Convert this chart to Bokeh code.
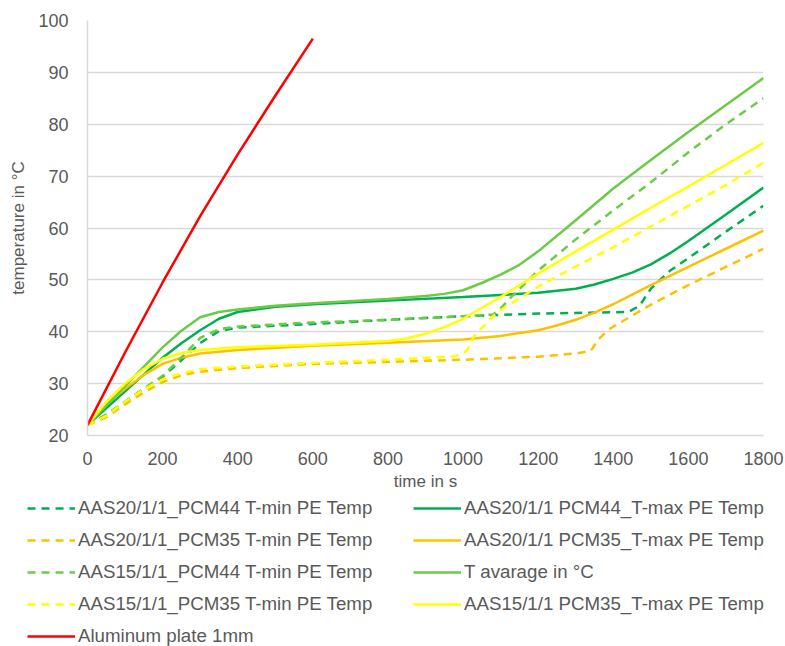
from bokeh.plotting import figure
from bokeh.models import Legend, LegendItem, FixedTicker
from bokeh.embed import file_html
from bokeh.resources import INLINE

# time (s) and temperatures (°C)
t_dg_min = [0, 50, 100, 150, 200, 250, 300, 350, 400, 600, 800, 1000, 1200, 1440, 1470, 1500, 1550, 1600, 1700, 1800]
v_dg_min = [22, 24, 26.5, 29, 31.3, 34.5, 37.8, 40.1, 40.8, 41.5, 42.3, 43, 43.5, 43.8, 45, 48.3, 51.7, 54.2, 59.3, 64.3]

t_dg_max = [0, 100, 200, 250, 300, 350, 400, 500, 600, 800, 1000, 1200, 1300, 1350, 1400, 1450, 1500, 1550, 1600, 1700, 1800]
v_dg_max = [22, 28.5, 35, 37.8, 40.3, 42.5, 43.8, 44.8, 45.3, 46, 46.7, 47.5, 48.3, 49.1, 50.2, 51.4, 53, 55.1, 57.5, 62.6, 67.8]

t_o_min = [0, 50, 100, 150, 200, 250, 300, 400, 600, 800, 1000, 1200, 1300, 1340, 1360, 1385, 1400, 1500, 1600, 1700, 1800]
v_o_min = [22, 23.5, 26, 28.3, 30.3, 31.6, 32.3, 33, 33.8, 34.2, 34.6, 35.2, 35.8, 36.3, 38.5, 40.3, 41, 45.2, 49, 52.5, 56]

t_o_max = [0, 50, 100, 150, 200, 250, 300, 400, 600, 800, 1000, 1100, 1200, 1250, 1300, 1350, 1400, 1500, 1600, 1700, 1800]
v_o_max = [22, 26, 29, 31.7, 33.8, 35, 35.8, 36.5, 37.3, 37.9, 38.5, 39.2, 40.3, 41.2, 42.3, 43.7, 45.3, 49, 52.5, 56, 59.5]

t_lg_min = [0, 50, 100, 150, 200, 250, 300, 350, 400, 600, 800, 1000, 1080, 1100, 1130, 1200, 1300, 1400, 1500, 1600, 1700, 1800]
v_lg_min = [22, 24, 26.5, 29, 31.5, 35, 38.8, 40.5, 41, 41.8, 42.3, 43, 43.3, 44.5, 46.8, 51.8, 57.8, 63.4, 68.8, 74.6, 80, 85]

t_avg = [0, 100, 200, 250, 300, 350, 400, 500, 600, 800, 900, 950, 1000, 1050, 1100, 1150, 1200, 1300, 1400, 1500, 1600, 1700, 1800]
v_avg = [22, 29.5, 37, 40.2, 42.8, 43.8, 44.3, 45, 45.5, 46.3, 46.9, 47.3, 48, 49.4, 51, 52.9, 55.5, 61.5, 67.6, 73.1, 78.5, 83.7, 88.9]

t_y_min = [0, 50, 100, 150, 200, 250, 300, 400, 600, 800, 980, 1010, 1030, 1080, 1100, 1200, 1300, 1400, 1500, 1600, 1700, 1800]
v_y_min = [22, 23.8, 26.5, 28.9, 30.8, 32, 32.8, 33.3, 34, 34.6, 35.3, 36.3, 39.2, 43, 44.2, 48.7, 52.6, 56.3, 60.3, 64.3, 68.3, 72.6]

t_y_max = [0, 50, 100, 150, 200, 250, 300, 400, 600, 800, 850, 900, 950, 1000, 1100, 1200, 1300, 1400, 1500, 1600, 1700, 1800]
v_y_max = [22, 26.5, 30, 32.8, 34.8, 35.9, 36.5, 37, 37.5, 38.2, 38.7, 39.6, 40.9, 42.5, 46.7, 51.2, 55.5, 59.7, 63.9, 68, 72.2, 76.4]

t_red = [0, 100, 200, 300, 400, 500, 600]
v_red = [22, 36, 49.5, 62.3, 74.2, 85.5, 96.5]

x_ticks = [0, 200, 400, 600, 800, 1000, 1200, 1400, 1600, 1800]
y_ticks = [20, 30, 40, 50, 60, 70, 80, 90, 100]

series = [
    ("AAS20/1/1_PCM44 T-min PE Temp", t_dg_min, v_dg_min, "#00B050", "dashed"),
    ("AAS20/1/1 PCM44_T-max PE Temp", t_dg_max, v_dg_max, "#00B050", "solid"),
    ("AAS20/1/1_PCM35 T-min PE Temp", t_o_min, v_o_min, "#FFC000", "dashed"),
    ("AAS20/1/1 PCM35_T-max PE Temp", t_o_max, v_o_max, "#FFC000", "solid"),
    ("AAS15/1/1_PCM44 T-min PE Temp", t_lg_min, v_lg_min, "#6CCB46", "dashed"),
    ("T avarage in °C", t_avg, v_avg, "#6CCB46", "solid"),
    ("AAS15/1/1_PCM35 T-min PE Temp", t_y_min, v_y_min, "#FFFF00", "dashed"),
    ("AAS15/1/1 PCM35_T-max PE Temp", t_y_max, v_y_max, "#FFFF00", "solid"),
    ("Aluminum plate 1mm", t_red, v_red, "#FF0000", "solid"),
]

FONT = "Liberation Sans"
GREY = "#595959"
DASH = "8 6"

p = figure(width=785, height=493, x_range=(0, 1800), y_range=(20, 100),
           output_backend="svg", toolbar_location=None,
           min_border_left=87, min_border_right=22, min_border_top=20, min_border_bottom=56)
p.outline_line_color = None

for ax in (p.xaxis[0], p.yaxis[0]):
    ax.major_tick_line_color = None
    ax.minor_tick_line_color = None
    ax.axis_line_color = "#d9d9d9"
    ax.axis_line_width = 1.5
    ax.major_label_text_font = FONT
    ax.major_label_text_font_size = "18px"
    ax.major_label_text_color = GREY
    ax.axis_label_text_font = FONT
    ax.axis_label_text_font_size = "17px"
    ax.axis_label_text_color = GREY
    ax.axis_label_text_font_style = "normal"

p.xaxis.ticker = FixedTicker(ticks=x_ticks)
p.yaxis.ticker = FixedTicker(ticks=y_ticks)
p.xaxis.axis_label = "time in s"
p.yaxis.axis_label = "temperature in °C"
p.xaxis.major_label_standoff = 10
p.yaxis.major_label_standoff = 13
p.xaxis.axis_label_standoff = 4
p.yaxis.axis_label_standoff = 7

p.xgrid.grid_line_color = None
p.ygrid.grid_line_color = "#d9d9d9"
p.ygrid.grid_line_width = 1.5

for label, xs, ys, color, dash in series:
    p.line(xs, ys, line_color=color, line_width=2.5,
           line_dash=(DASH if dash == "dashed" else "solid"))

# legend panel below the chart (separate root so its frame spans the full width)
q = figure(width=785, height=153, x_range=(0, 1), y_range=(0, 1),
           output_backend="svg", toolbar_location=None,
           x_axis_location=None, y_axis_location=None,
           min_border_left=0, min_border_right=0, min_border_top=0, min_border_bottom=0)
q.outline_line_color = None
q.xgrid.visible = False
q.ygrid.visible = False

items = {}
for label, xs, ys, color, dash in series:
    # legend-only renderers, drawn outside the visible range
    r = q.line([5, 6], [5, 6], line_color=color, line_width=2.5,
               line_dash=(DASH if dash == "dashed" else "solid"))
    items[label] = LegendItem(label=label, renderers=[r])

order = [0, 2, 4, 6, 8, 1, 3, 5, 7]  # left column, then right column
legend_items = [items[series[i][0]] for i in order]

legend = Legend(items=legend_items, nrows=5, location=(27, -1),
                label_text_font=FONT, label_text_font_size="18.7px",
                label_text_color=GREY, glyph_width=48, glyph_height=20,
                label_height=20, label_width=325, label_standoff=3, spacing=10,
                padding=0, margin=0, border_line_color=None,
                background_fill_alpha=0)
q.add_layout(legend, "center")

open("out.html", "w").write(file_html([p, q], INLINE))
